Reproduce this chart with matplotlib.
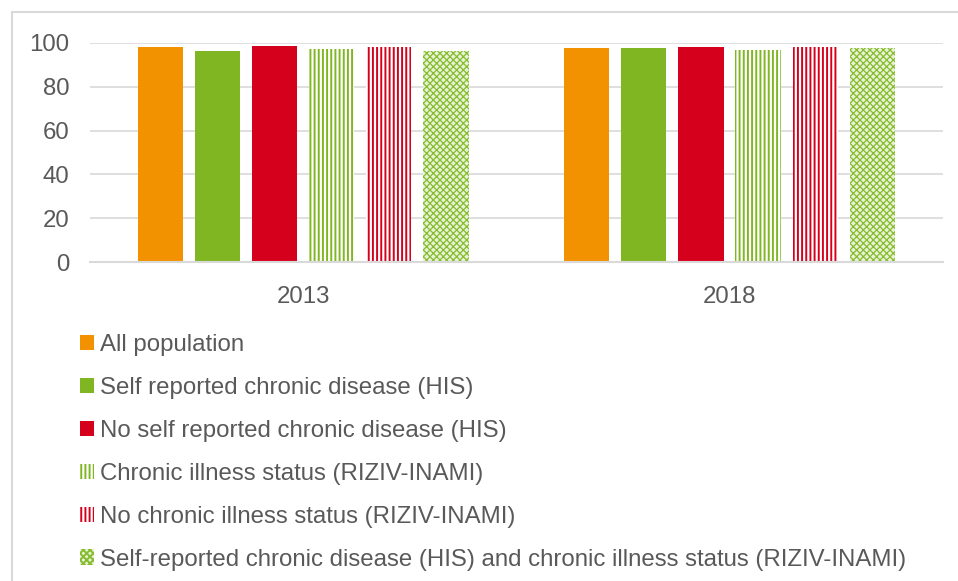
import numpy as np
import matplotlib.pyplot as plt
from matplotlib.lines import Line2D

plt.rcParams['font.family'] = ['Liberation Sans', 'DejaVu Sans']
plt.rcParams['hatch.linewidth'] = 1.4

years = ["2013", "2018"]
series = [
    "All population",
    "Self reported chronic disease (HIS)",
    "No self reported chronic disease (HIS)",
    "Chronic illness status (RIZIV-INAMI)",
    "No chronic illness status (RIZIV-INAMI)",
    "Self-reported chronic disease (HIS) and chronic illness status (RIZIV-INAMI)",
]
values = [
    [98.0, 97.9],
    [96.5, 97.6],
    [98.6, 98.3],
    [97.3, 96.8],
    [98.3, 98.0],
    [96.3, 97.9],
]

orange = '#F39200'
green = '#80B622'
red = '#D5001C'
styles = [
    dict(facecolor=orange, edgecolor='none'),
    dict(facecolor=green, edgecolor='none'),
    dict(facecolor=red, edgecolor='none'),
    dict(facecolor='white', edgecolor=green, hatch='||||', linewidth=0),
    dict(facecolor='white', edgecolor=red, hatch='||||', linewidth=0),
    dict(facecolor='#e8f2d4', edgecolor='#86bc30', hatch='xxxxx', linewidth=0),
]
hatch_lw = [1.4, 1.4, 1.4, 1.4, 1.4, 0.9]

fig = plt.figure(figsize=(9.58, 5.81), dpi=100)
ax = fig.add_axes([0.094, 0.549, 0.890, 0.377])

x = np.arange(len(years))
width = 0.106
step = 0.134
for i, (name, vals) in enumerate(zip(series, values)):
    off = (i - 2.5) * step
    with plt.rc_context({'hatch.linewidth': hatch_lw[i]}):
        ax.bar(x + off, vals, width, label=name, **styles[i])

ax.set_xlim(-0.5, 1.5)
ax.set_ylim(0, 100)
ax.set_yticks(range(0, 101, 20))
ax.set_xticks(x)
ax.set_xticklabels(years)
ax.tick_params(length=0, labelsize=17.3, labelcolor='#595959')
ax.tick_params(axis='y', pad=15)
ax.tick_params(axis='x', pad=17)
ax.grid(axis='y', color='#d9d9d9', linewidth=1.2)
ax.set_axisbelow(True)
for s in ['top', 'right', 'left']:
    ax.spines[s].set_visible(False)
ax.spines['bottom'].set_color('#d9d9d9')
ax.spines['bottom'].set_linewidth(1.5)

fig.legend(loc='upper left', bbox_to_anchor=(0.0835, 0.425), frameon=False,
           fontsize=17.3, labelcolor='#595959', handlelength=0.6, handleheight=0.6,
           handletextpad=0.25, labelspacing=0.87, borderaxespad=0, borderpad=0)

# outer chart border
fig.add_artist(Line2D([12/958, 12/958], [0, 1 - 12/581], transform=fig.transFigure,
                      color='#d9d9d9', linewidth=1.5))
fig.add_artist(Line2D([12/958, 1], [1 - 12/581, 1 - 12/581], transform=fig.transFigure,
                      color='#d9d9d9', linewidth=1.5))

fig.savefig('out.png', dpi=100)
